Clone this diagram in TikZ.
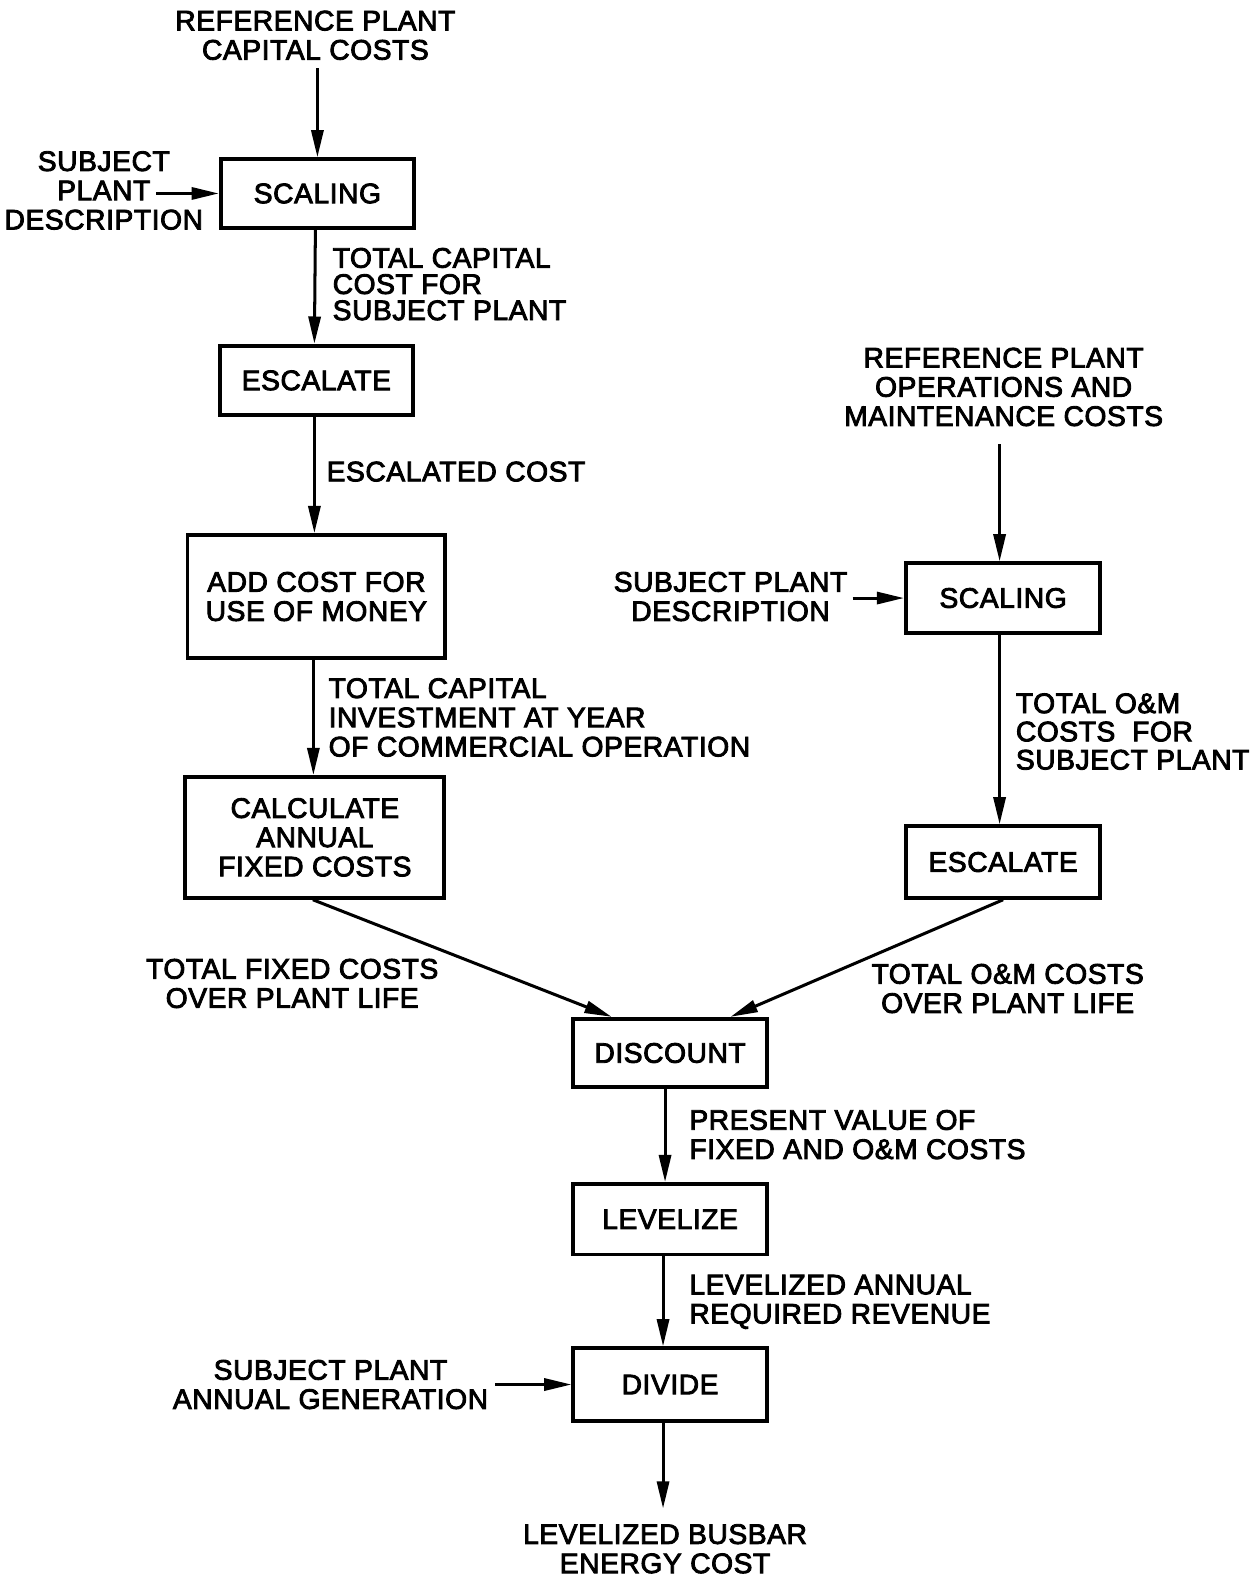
\documentclass[tikz,border=0pt]{standalone}
\usepackage{fontspec}
\setmainfont{Liberation Sans}[FakeBold=3,LetterSpace=2]
\usetikzlibrary{arrows.meta}
\begin{document}
\begin{tikzpicture}[x=1pt,y=-1pt,
  every node/.style={font=\fontsize{28}{29}\selectfont, inner sep=0pt},
  blk/.style={draw, line width=3.8pt, rectangle, align=center},
  lbl/.style={align=center},
  lbll/.style={align=left, anchor=west},
  arr/.style={line width=3pt, -{Triangle[length=27pt,width=12pt]}}]
\useasboundingbox (0,0) rectangle (1250,1568);
% boxes
\node[blk, minimum width=192pt, minimum height=68pt] (scal1) at (315,192) {SCALING};
\node[blk, minimum width=192pt, minimum height=69pt] (esc1) at (314,377.5) {ESCALATE};
\node[blk, minimum width=256pt, minimum height=122pt] (add) at (314,592) {ADD COST FOR\\USE OF MONEY};
\node[blk, minimum width=257pt, minimum height=120pt] (calc) at (312.5,831) {CALCULATE\\ANNUAL\\FIXED COSTS};
\node[blk, minimum width=193pt, minimum height=69pt] (scal2) at (995.5,593.5) {SCALING};
\node[blk, minimum width=193pt, minimum height=71pt] (esc2) at (995.5,855.5) {ESCALATE};
\node[blk, minimum width=192pt, minimum height=68pt] (disc) at (665,1045) {DISCOUNT};
\node[blk, minimum width=192pt, minimum height=70pt] (lev) at (665,1210) {LEVELIZE};
\node[blk, minimum width=192pt, minimum height=72pt] (div) at (665,1374) {DIVIDE};
% texts
\node[lbl] (top) at (313,35) {REFERENCE PLANT\\CAPITAL COSTS};
\node[lbl] (subj1) at (103,189) {SUBJECT\\PLANT\\DESCRIPTION};
\coordinate (s1) at (155,192);
\node[lbll, font=\fontsize{28}{26}\selectfont] (l1) at (330,282) {TOTAL CAPITAL\\COST FOR\\SUBJECT PLANT};
\node[lbll] (l2) at (324,468) {ESCALATED COST};
\node[lbll] (l3) at (326,712) {TOTAL CAPITAL\\INVESTMENT AT YEAR\\OF COMMERCIAL OPERATION};
\node[lbl] (l4) at (290,976) {TOTAL FIXED COSTS\\OVER PLANT LIFE};
\node[lbl] (ref2) at (996,384) {REFERENCE PLANT\\OPERATIONS AND\\MAINTENANCE COSTS};
\node[lbl] (subj2) at (725,592) {SUBJECT PLANT\\DESCRIPTION};
\node[lbll, font=\fontsize{28}{28}\selectfont] (l5) at (1008,726) {TOTAL O\&M\\COSTS\ \ FOR\\SUBJECT PLANT};
\node[lbl] (l6) at (1000,981) {TOTAL O\&M COSTS\\OVER PLANT LIFE};
\node[lbll] (l7) at (684,1126) {PRESENT VALUE OF\\FIXED AND O\&M COSTS};
\node[lbll] (l8) at (684,1292) {LEVELIZED ANNUAL\\REQUIRED REVENUE};
\node[lbl] (gen) at (328,1374) {SUBJECT PLANT\\ANNUAL GENERATION};
\node[lbl] (bus) at (660,1537) {LEVELIZED BUSBAR\\ENERGY COST};
\coordinate (busin) at (658,1497);
% connectors
\draw[arr] ([yshift=-8pt]top.south -| scal1) -- (scal1.north);
\draw[arr] (s1) -- (scal1.west |- s1);
\draw[arr] ([xshift=-2pt]scal1.south) -- ([xshift=-2pt]esc1.north);
\draw[arr] ([xshift=-2pt]esc1.south) -- ([xshift=-2pt]esc1.south |- add.north);
\draw[arr] ([xshift=-3pt]add.south) -- ([xshift=-3pt]add.south |- calc.north);
\draw[arr] ([xshift=-2pt]calc.south) -- ([xshift=-58pt]disc.north);
\draw[arr] (esc2.south) -- ([xshift=60pt]disc.north);
\draw[arr] ([yshift=-18pt]ref2.south -| 992,0) -- (992,0 |- scal2.north);
\draw[arr] ([xshift=5pt]subj2.east |- scal2.west) -- (scal2.west);
\draw[arr] (992,0 |- scal2.south) -- (992,0 |- esc2.north);
\draw[arr] ([xshift=-5pt]disc.south) -- ([xshift=-5pt]lev.north);
\draw[arr] ([xshift=-7pt]lev.south) -- ([xshift=-7pt]div.north);
\draw[arr] ([xshift=7pt]gen.east |- div.west) -- (div.west);
\draw[arr] (busin |- div.south) -- (busin);
\end{tikzpicture}
\end{document}
